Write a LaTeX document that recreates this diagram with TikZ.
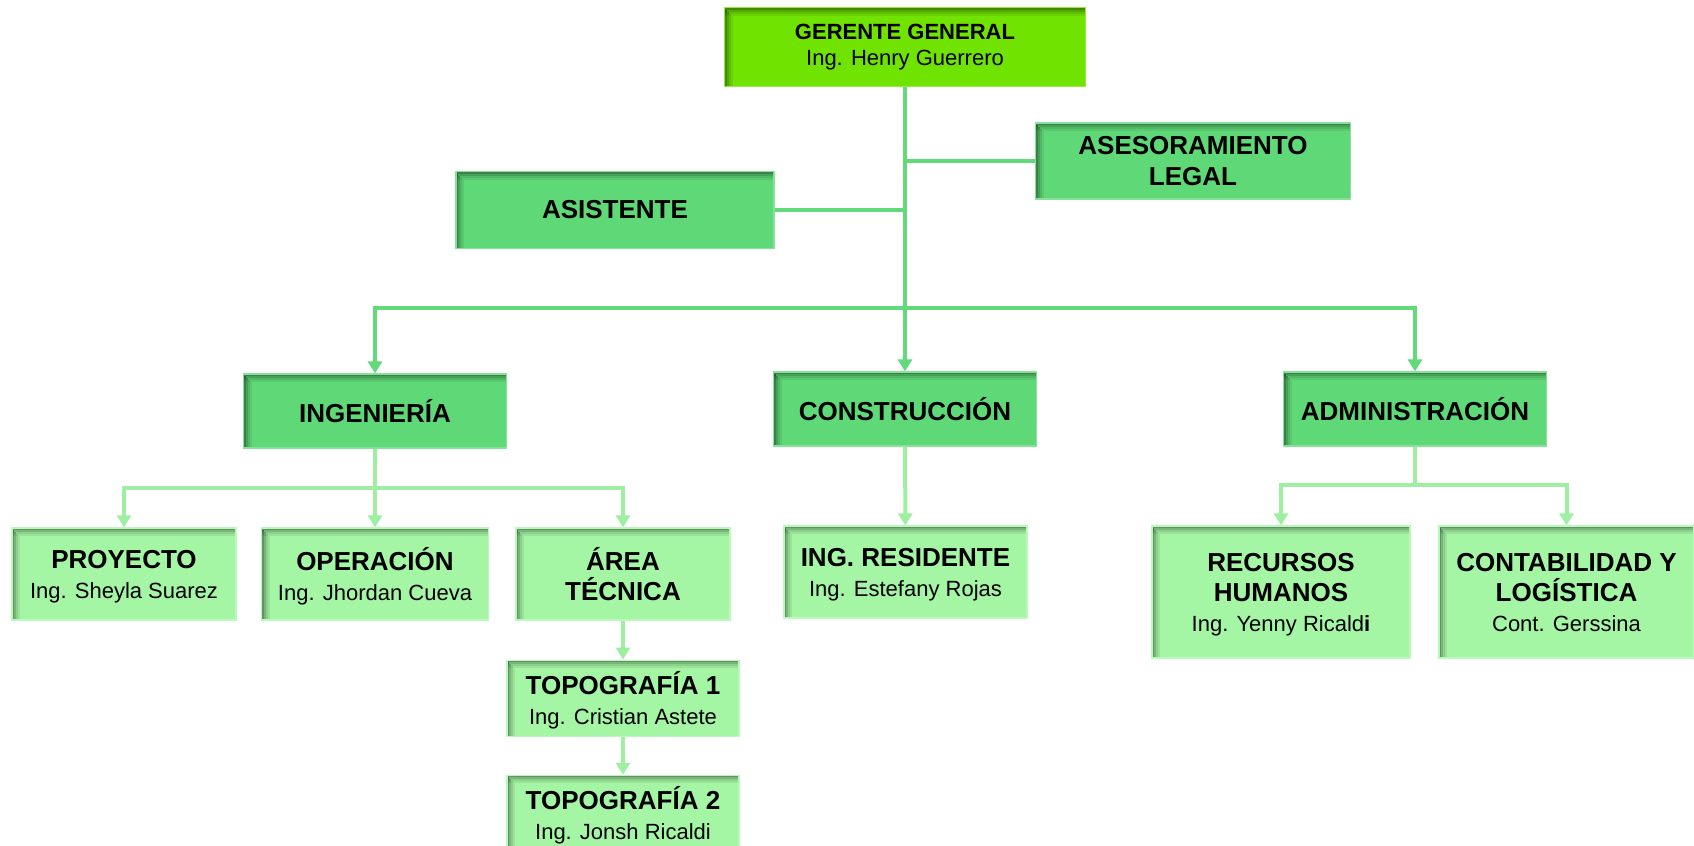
\documentclass[tikz,border=0pt]{standalone}
\usepackage{fontspec}
\setmainfont{Liberation Sans}
\usetikzlibrary{arrows.meta,positioning,calc}

\definecolor{limegreen}{HTML}{70E400}
\definecolor{midgreen}{HTML}{5FD977}
\definecolor{palegreen}{HTML}{A4F5A4}
\definecolor{linegreen}{HTML}{62DA7A}
\definecolor{paleline}{HTML}{9EEFA2}

\begin{document}
\begin{tikzpicture}[x=0.5pt,y=-0.5pt]
  \tikzstyle{box}=[rectangle,inner sep=0pt,align=center,text=black,line width=0.6pt,
    path picture={
      \foreach \d/\e/\o in {0/1/.4,1/2/.26,2/3/.15,3/4/.07}{
        \fill[black,opacity=\o] ([yshift=-\d pt]path picture bounding box.north west) rectangle ([yshift=-\e pt]path picture bounding box.north east);
        \fill[black,opacity=\o] ([xshift=\d pt,yshift=-\e pt]path picture bounding box.north west) rectangle ([xshift=\e pt]path picture bounding box.south west);
      }}]
  \tikzstyle{boss}=[box,fill=limegreen,draw=limegreen!75!white,font=\fontsize{11}{13}\selectfont]
  \tikzstyle{unit}=[box,fill=midgreen,draw=midgreen!75!white,font=\fontsize{13}{15.5}\selectfont\bfseries]
  \tikzstyle{sub}=[box,fill=palegreen,draw=palegreen!75!white,text depth=0pt,font=\fontsize{11}{15}\selectfont]
  \tikzstyle{conn}=[linegreen,line width=2pt]
  \tikzstyle{conn3}=[paleline,line width=2pt]
  \tikzstyle{arr}=[-{Triangle[length=6pt,width=7pt]}]
  \newcommand{\ttl}[1]{{\fontsize{13}{15}\selectfont\bfseries #1}}

  \useasboundingbox (0,0) rectangle (1694,846);

  % top
  \node[boss,minimum width=180.5pt,minimum height=39.5pt] (ger) at (905,47) {\textbf{GERENTE GENERAL}\\Ing. Henry Guerrero};
  \node[unit,minimum width=157.5pt,minimum height=38pt] (ase) at (1193,161) {ASESORAMIENTO\\LEGAL};
  \node[unit,minimum width=159pt,minimum height=38.5pt] (asi) at (615,210) {ASISTENTE};

  % areas
  \node[unit,minimum width=131.5pt,minimum height=37pt] (ing) at (375,411) {INGENIERÍA};
  \node[unit,minimum width=131.5pt,minimum height=37pt] (con) at (905,409) {CONSTRUCCIÓN};
  \node[unit,minimum width=131.5pt,minimum height=37pt] (adm) at (1415,409) {ADMINISTRACIÓN};

  % ingenieria
  \node[sub,minimum width=112pt,minimum height=46pt] (pro) at (124,574) {\ttl{PROYECTO}\\Ing. Sheyla Suarez};
  \node[sub,minimum width=113.5pt,minimum height=46pt] (ope) at (375,574) {\ttl{OPERACIÓN}\\Ing. Jhordan Cueva};
  \node[sub,minimum width=107pt,minimum height=46pt] (are) at (623,574) {\ttl{ÁREA}\\\ttl{TÉCNICA}};
  \node[sub,minimum width=116pt,minimum height=38pt,below=19.5pt of are] (top1) {\ttl{TOPOGRAFÍA 1}\\Ing. Cristian Astete};
  \node[sub,minimum width=116pt,minimum height=38pt,below=19pt of top1] (top2) {\ttl{TOPOGRAFÍA 2}\\Ing. Jonsh Ricaldi};

  % construccion, administracion
  \node[sub,minimum width=121.5pt,minimum height=46pt] (res) at (905.5,572) {\ttl{ING. RESIDENTE}\\Ing. Estefany Rojas};
  \node[sub,minimum width=129pt,minimum height=66pt] (rrh) at (1281,592) {\ttl{RECURSOS}\\\ttl{HUMANOS}\\Ing. Yenny Ricald\textbf{i}};
  \node[sub,minimum width=127.5pt,minimum height=66pt] (cta) at (1566.5,592) {\ttl{CONTABILIDAD Y}\\\ttl{LOGÍSTICA}\\Cont. Gerssina};

  % connectors
  \coordinate (bus) at (905,308);
  \draw[conn] (ger) -- (bus);
  \draw[conn] (ase) -- (ase -| ger);
  \draw[conn] (asi) -- (asi -| ger);
  \draw[conn,arr] (bus) -| (ing);
  \draw[conn,arr] (bus) -- (con);
  \draw[conn,arr] (bus) -| (adm);

  \coordinate (ingbus) at (375,488);
  \draw[conn3] (ing) -- (ingbus);
  \draw[conn3,arr] (ingbus) -| (pro);
  \draw[conn3,arr] (ingbus) -- (ope);
  \draw[conn3,arr] (ingbus) -| (are);
  \draw[conn3,arr] (are) -- (top1);
  \draw[conn3,arr] (top1) -- (top2);
  \draw[conn3,arr] (con) -- (res);

  \coordinate (admbus) at (1415,485);
  \draw[conn3] (adm) -- (admbus);
  \draw[conn3,arr] (admbus) -| (rrh);
  \draw[conn3,arr] (admbus) -| (cta);
\end{tikzpicture}
\end{document}
